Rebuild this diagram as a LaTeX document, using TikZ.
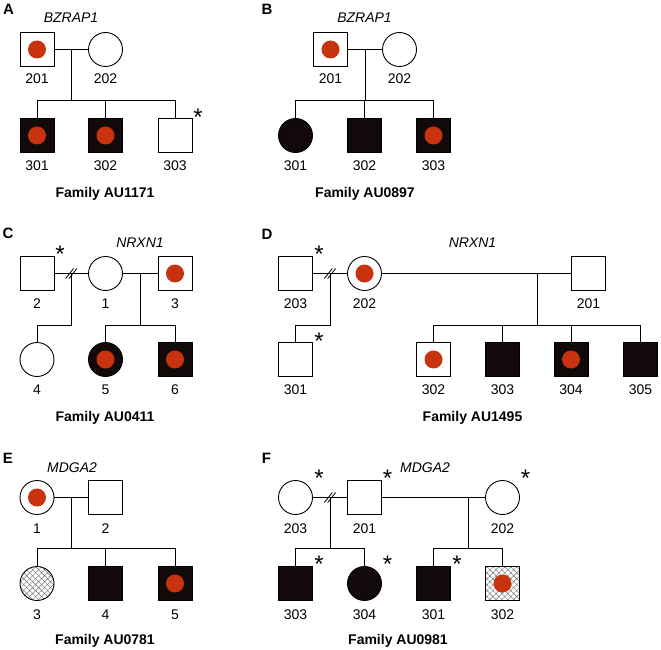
\documentclass[tikz,border=0pt]{standalone}
\usepackage{fontspec}
\setmainfont{Liberation Sans}
\usetikzlibrary{patterns.meta,calc}
\definecolor{dotred}{RGB}{200,50,15}
\definecolor{affblack}{RGB}{18,10,10}
\begin{document}
\begin{tikzpicture}[x=1pt,y=-1pt,line width=0.9pt,
  ind/.style={draw,inner sep=0,outer sep=0,minimum size=34pt,line width=0.9pt},
  male/.style={ind,rectangle},
  female/.style={ind,circle},
  aff/.style={fill=affblack},
  het/.style={path picture={\fill[dotred] (path picture bounding box.center) circle (9pt);}},
  hatch/.style={pattern={Hatch[angle=45,distance=4.2pt,line width=0.45pt]},pattern color=black!55},
  lbl/.style={inner sep=0,anchor=base,font=\fontsize{14}{16}\selectfont},
  fam/.style={lbl,font=\bfseries\fontsize{14}{16}\selectfont},
  gene/.style={lbl,font=\itshape\fontsize{14}{16}\selectfont},
  panel/.style={lbl,font=\bfseries\fontsize{15}{16}\selectfont},
  ast/.style={lbl,font=\fontsize{24}{24}\selectfont},
  link/.style={line width=0.9pt},
  slash/.style={line width=0.8pt}]
\useasboundingbox (0,0) rectangle (661,650);

% ---------------- Panel A ----------------
\node[panel] (Alab) at (8.5,15) {A};
\node[gene] (Agene) at (71,23) {BZRAP1};
\node[male,het] (A201) at (37,49.5) {};
\node[female] (A202) at (105.5,49.5) {};
\node[male,aff,het] (A301) at (37,135.5) {};
\node[male,aff,het] (A302) at (105.5,135.5) {};
\node[male] (A303) at (175,135.5) {};
\coordinate (Am) at ($(A201.east)!0.5!(A202.west)$);
\coordinate (As) at (Am |- 0,100);
\draw[link] (A201.east) -- (A202.west);
\draw[link] (Am) -- (As);
\draw[link] (A301.north) |- (A303.north |- As) -- (A303.north);
\draw[link] (A302.north) -- (A302.north |- As);
\node[lbl] (A201t) at (37,84) {201};
\node[lbl] (A202t) at (105.5,84) {202};
\node[lbl] (A301t) at (37,170) {301};
\node[lbl] (A302t) at (105.5,170) {302};
\node[lbl] (A303t) at (175,170) {303};
\node[ast] (A303a) at (198,125.9) {*};
\node[fam] (Afam) at (105,197) {Family AU1171};

% ---------------- Panel B ----------------
\node[panel] (Blab) at (267,15) {B};
\node[gene] (Bgene) at (364.5,23) {BZRAP1};
\node[male,het] (B201) at (330.5,49.5) {};
\node[female] (B202) at (399.5,49.5) {};
\node[female,aff] (B301) at (295.5,135.5) {};
\node[male,aff] (B302) at (364.5,135.5) {};
\node[male,aff,het] (B303) at (433.5,135.5) {};
\coordinate (Bm) at ($(B201.east)!0.5!(B202.west)$);
\coordinate (Bs) at (Bm |- 0,100);
\draw[link] (B201.east) -- (B202.west);
\draw[link] (Bm) -- (Bs);
\draw[link] (B301.north) |- (B303.north |- Bs) -- (B303.north);
\draw[link] (B302.north) -- (B302.north |- Bs);
\node[lbl] (B201t) at (330.5,84) {201};
\node[lbl] (B202t) at (399.5,84) {202};
\node[lbl] (B301t) at (295.5,170) {301};
\node[lbl] (B302t) at (364.5,170) {302};
\node[lbl] (B303t) at (433.5,170) {303};
\node[fam] (Bfam) at (365,197) {Family AU0897};

% ---------------- Panel C ----------------
\node[panel] (Clab) at (8,238) {C};
\node[gene] (Cgene) at (140,247) {NRXN1};
\node[male] (C2) at (37,273.5) {};
\node[female] (C1) at (105.5,273.5) {};
\node[male,het] (C3) at (175,273.5) {};
\node[female] (C4) at (37,359.5) {};
\node[female,aff,het] (C5) at (105.5,359.5) {};
\node[male,aff,het] (C6) at (175,359.5) {};
\coordinate (Cm1) at ($(C2.east)!0.5!(C1.west)$);
\coordinate (Cs1) at (Cm1 |- 0,325);
\coordinate (Cm2) at ($(C1.east)!0.5!(C3.west)$);
\coordinate (Cs2) at (Cm2 |- 0,325);
\draw[link] (C2.east) -- (C1.west);
\draw[link] (C1.east) -- (C3.west);
\draw[link] (Cm1) -- (Cs1) -| (C4.north);
\draw[link] (Cm2) -- (Cs2);
\draw[link] (C5.north) |- (C6.north |- Cs2) -- (C6.north);
\draw[slash] ($(Cm1)+(-5.7,5)$) -- ++(8,-10);
\draw[slash] ($(Cm1)+(-2.3,5)$) -- ++(8,-10);
\node[lbl] (C2t) at (37,308) {2};
\node[lbl] (C1t) at (105.5,308) {1};
\node[lbl] (C3t) at (175,308) {3};
\node[lbl] (C4t) at (37,394.5) {4};
\node[lbl] (C5t) at (105.5,394.5) {5};
\node[lbl] (C6t) at (175,394.5) {6};
\node[ast] (C2a) at (60,262.9) {*};
\node[fam] (Cfam) at (105,421) {Family AU0411};

% ---------------- Panel D ----------------
\node[panel] (Dlab) at (267,239) {D};
\node[gene] (Dgene) at (472.5,247) {NRXN1};
\node[male] (D203) at (295.5,273.5) {};
\node[female,het] (D202) at (364.5,273.5) {};
\node[male] (D201) at (588.5,273.5) {};
\node[male] (D301) at (295.5,359.5) {};
\node[male,het] (D302) at (433.5,359.5) {};
\node[male,aff] (D303) at (502.5,359.5) {};
\node[male,aff,het] (D304) at (571,359.5) {};
\node[male,aff] (D305) at (640.5,359.5) {};
\coordinate (Dm1) at ($(D203.east)!0.5!(D202.west)$);
\coordinate (Ds1) at (Dm1 |- 0,325);
\coordinate (Dm2) at (537,273.5);
\coordinate (Ds2) at (Dm2 |- 0,325);
\draw[link] (D203.east) -- (D202.west);
\draw[link] (D202.east) -- (D201.west);
\draw[link] (Dm1) -- (Ds1) -| (D301.north);
\draw[link] (Dm2) -- (Ds2);
\draw[link] (D302.north) |- (D305.north |- Ds2) -- (D305.north);
\draw[link] (D303.north) -- (D303.north |- Ds2);
\draw[link] (D304.north) -- (D304.north |- Ds2);
\draw[slash] ($(Dm1)+(-5.7,5)$) -- ++(8,-10);
\draw[slash] ($(Dm1)+(-2.3,5)$) -- ++(8,-10);
\node[lbl] (D203t) at (295.5,308) {203};
\node[lbl] (D202t) at (364.5,308) {202};
\node[lbl] (D201t) at (588.5,308) {201};
\node[lbl] (D301t) at (295.5,394.5) {301};
\node[lbl] (D302t) at (433.5,394.5) {302};
\node[lbl] (D303t) at (502.5,394.5) {303};
\node[lbl] (D304t) at (571,394.5) {304};
\node[lbl] (D305t) at (640.5,394.5) {305};
\node[ast] (D203a) at (319,262.9) {*};
\node[ast] (D301a) at (319,349.9) {*};
\node[fam] (Dfam) at (472.5,421) {Family AU1495};

% ---------------- Panel E ----------------
\node[panel] (Elab) at (8,463) {E};
\node[gene] (Egene) at (72,472) {MDGA2};
\node[female,het] (E1) at (37,497.5) {};
\node[male] (E2) at (105.5,497.5) {};
\node[female,hatch] (E3) at (37,583.5) {};
\node[male,aff] (E4) at (105.5,583.5) {};
\node[male,aff,het] (E5) at (175,583.5) {};
\coordinate (Em) at ($(E1.east)!0.5!(E2.west)$);
\coordinate (Es) at (Em |- 0,548);
\draw[link] (E1.east) -- (E2.west);
\draw[link] (Em) -- (Es);
\draw[link] (E3.north) |- (E5.north |- Es) -- (E5.north);
\draw[link] (E4.north) -- (E4.north |- Es);
\node[lbl] (E1t) at (37,533) {1};
\node[lbl] (E2t) at (105.5,533) {2};
\node[lbl] (E3t) at (37,619) {3};
\node[lbl] (E4t) at (105.5,619) {4};
\node[lbl] (E5t) at (175,619) {5};
\node[fam] (Efam) at (105,644) {Family AU0781};

% ---------------- Panel F ----------------
\node[panel] (Flab) at (266.5,463) {F};
\node[gene] (Fgene) at (425,472) {MDGA2};
\node[female] (F203) at (295.5,497.5) {};
\node[male] (F201) at (364.5,497.5) {};
\node[female] (F202) at (502.5,497.5) {};
\node[male,aff] (F303) at (295.5,583.5) {};
\node[female,aff] (F304) at (364.5,583.5) {};
\node[male,aff] (F301) at (433.5,583.5) {};
\node[male,hatch,het] (F302) at (502.5,583.5) {};
\coordinate (Fm1) at ($(F203.east)!0.5!(F201.west)$);
\coordinate (Fs1) at (Fm1 |- 0,548);
\coordinate (Fm2) at (468,497.5);
\coordinate (Fs2) at (Fm2 |- 0,548);
\draw[link] (F203.east) -- (F201.west);
\draw[link] (F201.east) -- (F202.west);
\draw[link] (Fm1) -- (Fs1);
\draw[link] (F303.north) |- (F304.north |- Fs1) -- (F304.north);
\draw[link] (Fm2) -- (Fs2);
\draw[link] (F301.north) |- (F302.north |- Fs2) -- (F302.north);
\draw[slash] ($(Fm1)+(-5.7,5)$) -- ++(8,-10);
\draw[slash] ($(Fm1)+(-2.3,5)$) -- ++(8,-10);
\node[lbl] (F203t) at (295.5,533) {203};
\node[lbl] (F201t) at (364.5,533) {201};
\node[lbl] (F202t) at (502.5,533) {202};
\node[lbl] (F303t) at (295.5,619) {303};
\node[lbl] (F304t) at (364.5,619) {304};
\node[lbl] (F301t) at (433.5,619) {301};
\node[lbl] (F302t) at (502.5,619) {302};
\node[ast] (F203a) at (319,486.9) {*};
\node[ast] (F201a) at (387.5,486.9) {*};
\node[ast] (F202a) at (525.5,486.9) {*};
\node[ast] (F303a) at (319,572.9) {*};
\node[ast] (F304a) at (387.5,572.9) {*};
\node[ast] (F301a) at (457,572.9) {*};
\node[fam] (Ffam) at (398,644) {Family AU0981};
\end{tikzpicture}
\end{document}
